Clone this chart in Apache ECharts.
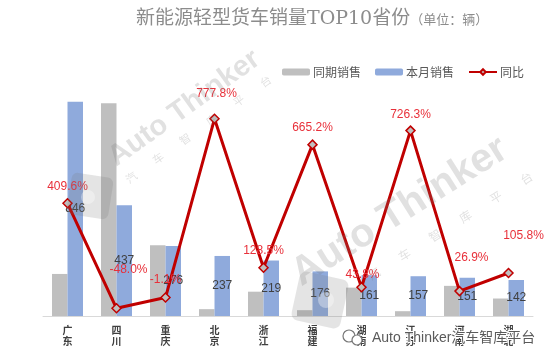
<!DOCTYPE html>
<html>
<head>
<meta charset="utf-8">
<script src="https://cdn.jsdelivr.net/npm/echarts@6/dist/echarts.min.js"></script>
<style>html,body{margin:0;padding:0;background:#fff;}#c{width:550px;height:361px;}</style>
</head>
<body>
<div id="c"></div>
<script>
var categories = ['广东','四川','重庆','北京','浙江','福建','湖南','江苏','河南','湖北'];
var lastYearSales = [166, 840, 279, 27, 96, 23, 112, 19, 119, 69];
var thisMonthSales = [846, 437, 276, 237, 219, 176, 161, 157, 151, 142];
var yoyPercent = [409.6, -48.0, -1.1, 777.8, 128.5, 665.2, 43.8, 726.3, 26.9, 105.8];
var seriesNames = ['同期销售', '本月销售', '同比'];

// label nudges (style only)
var yoyLabelOffsets = [[0,0],[12,-22],[0,-2],[2,-9],[0,-1],[0,-1],[1,4],[0,0],[12,-17],[15,-21]];

var chart = echarts.init(document.getElementById('c'), null, {renderer:'canvas'});
var lineData = yoyPercent.map(function(v, i){
  return {value: v, label: {offset: yoyLabelOffsets[i]}};
});
var wmColor = 'rgba(120,120,120,0.22)';
var wmSub = '汽　　车　　智　　库　　平　　台';
chart.setOption({
  animation: false,
  backgroundColor: '#fff',
  title: {
    text: '{a|新能源轻型货车销量TOP10省份}{b|（单位：辆）}',
    left: 131, top: 5,
    textStyle: {
      fontWeight: 'normal',
      rich: {
        a: {fontSize: 19, color: '#8c8c8c', fontWeight: 'normal', fontFamily: 'DejaVu Serif, Noto Sans CJK SC'},
        b: {fontSize: 13, color: '#8c8c8c', fontWeight: 'normal', fontFamily: 'DejaVu Serif, Noto Sans CJK SC', padding:[3,0,0,0]}
      }
    }
  },
  legend: {
    data: seriesNames,
    left: 277, top: 61,
    itemWidth: 28, itemHeight: 7, itemGap: 14,
    textStyle: {fontSize: 12, color: '#595959', fontFamily: 'Noto Sans CJK SC', padding:[0,0,0,-2]}
  },
  grid: {left: 43, right: 17, top: 88, bottom: 45},
  xAxis: {
    type: 'category',
    data: categories,
    axisLine: {lineStyle: {color: '#d9d9d9', width: 1}},
    axisTick: {show: false},
    axisLabel: {
      color: '#404040', fontSize: 10, lineHeight: 11, margin: 9, fontWeight: 'bold',
      fontFamily: 'Noto Sans CJK SC',
      formatter: function(v){ return v.split('').join('\n'); }
    }
  },
  yAxis: [
    {type: 'value', min: 0, max: 900, show: false, splitLine: {show: false}},
    {type: 'value', min: -81.5, max: 912, show: false, splitLine: {show: false}}
  ],
  series: [
    {
      name: seriesNames[0], type: 'bar', data: lastYearSales,
      barWidth: 15.5, barGap: '0%',
      itemStyle: {color: '#bfbfbf'}
    },
    {
      name: seriesNames[1], type: 'bar', data: thisMonthSales,
      barWidth: 15.5, barGap: '0%',
      itemStyle: {color: '#8faadc'},
      label: {show: true, position: 'inside', color: '#404040', fontSize: 12, fontFamily: 'Liberation Sans, Arial'}
    },
    {
      name: seriesNames[2], type: 'line', yAxisIndex: 1, data: lineData,
      symbol: 'diamond', symbolSize: 9,
      lineStyle: {color: '#c00000', width: 3},
      itemStyle: {color: '#c0c0c0', borderColor: '#c00000', borderWidth: 1.5},
      label: {show: true, position: 'top', color: '#e8303a', fontSize: 12, fontFamily: 'Liberation Sans, Arial',
        formatter: function(p){ return p.value.toFixed(1) + '%'; }},
      z: 5
    }
  ],
  graphic: [
    {type: 'rect', x: 90, y: 196, rotation: 0.63 + Math.PI/4, shape: {x:-21, y:-21, width: 42, height: 42, r: 6},
      style: {fill: 'rgba(120,120,120,0.2)'}, z: 10, silent: true},
    {type: 'circle', shape: {cx: 88, cy: 197, r: 7}, style: {fill: 'rgba(255,255,255,0.35)'}, z: 10, silent: true},
    {type: 'text', x: 120, y: 172, rotation: 0.62,
      style: {text: 'Auto Thinker', fill: wmColor, fontSize: 29, fontWeight: 'bold', fontFamily: 'Liberation Sans, Arial', verticalAlign: 'bottom'}, z: 10, silent: true},
    {type: 'text', x: 130, y: 185, rotation: 0.62,
      style: {text: wmSub, fill: wmColor, fontSize: 11, fontFamily: 'Noto Sans CJK SC', verticalAlign: 'bottom'}, z: 10, silent: true},
    {type: 'rect', x: 320, y: 300, rotation: 0.57 + Math.PI/4, shape: {x:-25, y:-25, width: 50, height: 50, r: 7},
      style: {fill: 'rgba(120,120,120,0.2)'}, z: 10, silent: true},
    {type: 'circle', shape: {cx: 326, cy: 300, r: 8}, style: {fill: 'rgba(255,255,255,0.35)'}, z: 10, silent: true},
    {type: 'text', x: 306, y: 294, rotation: 0.56,
      style: {text: 'Auto Thinker', fill: wmColor, fontSize: 40, fontWeight: 'bold', fontFamily: 'Liberation Sans, Arial', verticalAlign: 'bottom'}, z: 10, silent: true},
    {type: 'text', x: 372, y: 282, rotation: 0.56,
      style: {text: wmSub, fill: wmColor, fontSize: 12, fontFamily: 'Noto Sans CJK SC', verticalAlign: 'bottom'}, z: 10, silent: true},
    {type: 'text', left: 371, top: 330,
      style: {text: 'Auto Thinker汽车智库平台', fill: '#5a5a5a', fontSize: 14, fontFamily: 'Liberation Sans, Noto Sans CJK SC',
        stroke: '#ffffff', lineWidth: 2}, z: 20, silent: true},
    {type: 'circle', shape: {cx: 349, cy: 336, r: 6}, style: {fill: 'none', stroke: '#777', lineWidth: 1.2}, z: 20, silent: true},
    {type: 'circle', shape: {cx: 357, cy: 340, r: 5}, style: {fill: '#fff', stroke: '#777', lineWidth: 1.2}, z: 20, silent: true}
  ]
});
</script>
</body>
</html>
